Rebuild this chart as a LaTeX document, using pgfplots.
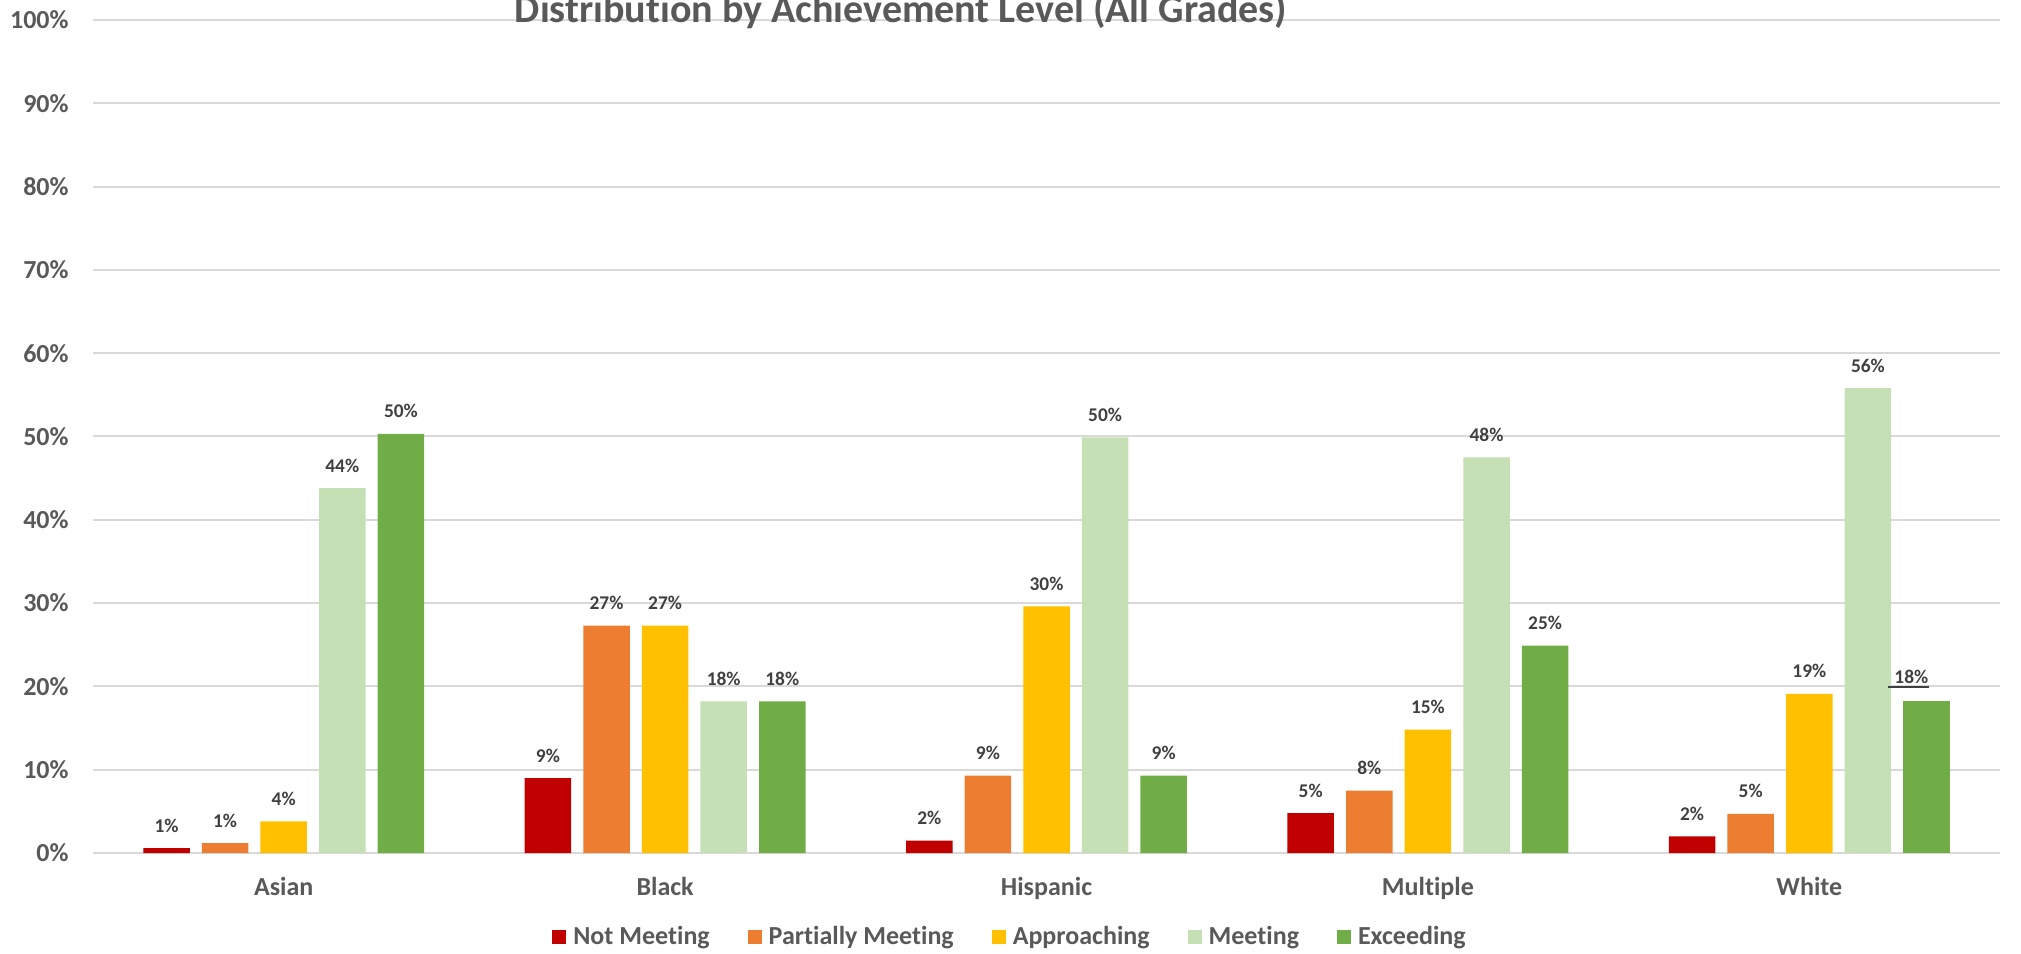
\documentclass[border=0pt]{standalone}
\usepackage{pgfplots}
\usepackage{pgfplotstable}
\pgfplotsset{compat=1.18}
\usepackage{fontspec}
\setmainfont{Carlito}[Ligatures=NoCommon]
\definecolor{cNM}{HTML}{C00000}
\definecolor{cPM}{HTML}{ED7D31}
\definecolor{cAP}{HTML}{FFC000}
\definecolor{cME}{HTML}{C5E0B4}
\definecolor{cEX}{HTML}{70AD47}
\definecolor{txt}{HTML}{595959}
\definecolor{lbl}{HTML}{404040}
\definecolor{gridc}{HTML}{D9D9D9}

\pgfplotstableread{
x y lab
0 0.6 1
1 9.0 9
2 1.5 2
3 4.8 5
4 2.0 2
}\nm
\pgfplotstableread{
x y lab
0 1.2 1
1 27.3 27
2 9.3 9
3 7.5 8
4 4.7 5
}\pm
\pgfplotstableread{
x y lab
0 3.8 4
1 27.3 27
2 29.6 30
3 14.8 15
4 19.1 19
}\ap
\pgfplotstableread{
x y lab
0 43.8 44
1 18.2 18
2 49.9 50
3 47.5 48
4 55.8 56
}\me
\pgfplotstableread{
x y lab
0 50.3 50
1 18.2 18
2 9.3 9
3 24.9 25
4 18.3 18
}\ex

\pgfplotsset{
  mybar/.style={ybar, bar width=23.25pt, draw=none, fill=#1,
    legend image code/.code={\fill[#1] (0pt,-3.5pt) rectangle (7pt,3.5pt);}},
  mylabels/.style={point meta=explicit symbolic,
    nodes near coords={\pgfplotspointmeta\%},
    every node near coord/.append style={font=\fontsize{9.7}{11}\selectfont\bfseries,
      text=lbl, anchor=base, inner sep=0pt, yshift=8pt, xshift=#1}},
}

\begin{document}
\begin{tikzpicture}
\useasboundingbox (-46.5pt,-50pt) rectangle (964pt,426.5pt);
\begin{axis}[
  scale only axis, width=953.5pt, height=416.5pt,
  xmin=-0.5, xmax=4.5, ymin=0, ymax=100,
  xtick={0,1,2,3,4},
  xticklabels={Asian,Black,Hispanic,Multiple,White},
  ytick={0,10,20,30,40,50,60,70,80,90,100},
  yticklabels={0\%,10\%,20\%,30\%,40\%,50\%,60\%,70\%,80\%,90\%,100\%},
  tick style={draw=none},
  axis line style={draw=none},
  ymajorgrids,
  major grid style={draw=gridc, line width=1pt},
  yticklabel style={anchor=east, inner sep=0pt, xshift=-12pt,
    font=\fontsize{13}{15}\selectfont\bfseries, text=txt},
  xticklabel style={anchor=base, inner sep=0pt, yshift=-21.25pt,
    font=\fontsize{13}{15}\selectfont\bfseries, text=txt},
  clip=false,
  legend columns=5,
  legend cell align=left,
  legend style={at={(0.4822,-0.1008)}, anchor=center, draw=none, fill=none,
    font=\fontsize{13}{15}\selectfont\bfseries, text=txt,
    nodes={inner xsep=3.5pt, inner ysep=1pt},
    /tikz/every even column/.append style={column sep=15.5pt}},
]
\addplot[mybar=cNM, bar shift=-58.6pt, mylabels=-58.6pt] table[x=x, y=y, meta=lab]{\nm};
\addlegendentry{Not Meeting}
\addplot[mybar=cPM, bar shift=-29.3pt, mylabels=-29.3pt] table[x=x, y=y, meta=lab]{\pm};
\addlegendentry{Partially Meeting}
\addplot[mybar=cAP, bar shift=0pt, mylabels=0pt] table[x=x, y=y, meta=lab]{\ap};
\addlegendentry{Approaching}
\addplot[mybar=cME, bar shift=29.3pt, mylabels=29.3pt] table[x=x, y=y, meta=lab]{\me};
\addlegendentry{Meeting}
\addplot[mybar=cEX, bar shift=58.6pt, mylabels=58.6pt, restrict x to domain=-0.5:3.5] table[x=x, y=y, meta=lab]{\ex};
\addlegendentry{Exceeding}
\addplot[mybar=cEX, bar shift=58.6pt, forget plot, restrict x to domain=3.5:4.5] table[x=x, y=y]{\ex};
\node[anchor=base, inner sep=0pt, font=\fontsize{9.7}{11}\selectfont\bfseries, text=lbl]
  (wl) at (axis cs:4,18.3) [xshift=51pt, yshift=8.5pt] {18\%};
\draw[lbl, line width=0.75pt] ([xshift=-3pt,yshift=-1.6pt]wl.base west) -- ([yshift=-1.6pt]wl.base east);
\node[anchor=base, inner sep=0pt, font=\fontsize{20}{23}\selectfont\bfseries, text=txt]
  at (rel axis cs:0.4237,0.9964) {Distribution by Achievement Level (All Grades)};
\end{axis}
\end{tikzpicture}
\end{document}
